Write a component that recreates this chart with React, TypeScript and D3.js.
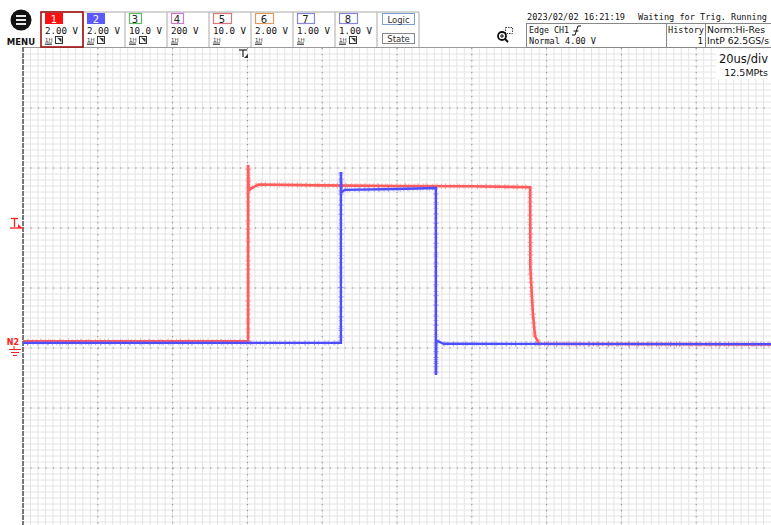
import React from "react";
import * as d3 from "d3";

// ---- data ----
const ch1Times = [0, 60.2, 60.2, 60.35, 61, 63, 80, 100, 120, 135.6, 135.65, 135.9, 136.3, 136.9, 138, 200];
const ch1Volts = [0.02, 0.02, 5.9, 5.05, 5.12, 5.25, 5.22, 5.2, 5.19, 5.16, 2.5, 1.9, 1.0, 0.2, -0.06, -0.08];
const ch2Times = [0, 85.0, 85.0, 85.1, 86, 100, 110.4, 110.4, 110.5, 112.5, 200];
const ch2Volts = [-0.03, -0.03, 5.67, 4.98, 5.07, 5.1, 5.13, -1.1, 0.05, -0.06, -0.07];

const channelNums = ["1", "2", "3", "4", "5", "6", "7", "8"];
const channelScales = ["2.00 V", "2.00 V", "10.0 V", "200 V", "10.0 V", "2.00 V", "1.00 V", "1.00 V"];
const channelColors = ["#ff1010", "#5a5aff", "#5cbb5c", "#c77ccf", "#dd7676", "#e09a5a", "#8a86d8", "#8a86d8"];
const channelFilled = [true, true, false, false, false, false, false, false];
const channelHasProbeIcon = [true, true, true, false, false, false, false, true];

const timeDomain = [0, 200]; // us, 20 us/div
const voltDomain = [-6.2, 9.8]; // CH1/CH2 2 V/div

const W = 771;
const H = 525;
const X0 = 23;
const X1 = 771;
const Y0 = 48;
const Y1 = 528;

const x = d3.scaleLinear().domain(timeDomain).range([X0, X1]);
const y = d3.scaleLinear().domain(voltDomain).range([Y1, Y0]);

const line = d3
  .line<[number, number]>()
  .x((d) => x(d[0]))
  .y((d) => y(d[1]));

const ch1 = ch1Times.map((t, i) => [t, ch1Volts[i]] as [number, number]);
const ch2 = ch2Times.map((t, i) => [t, ch2Volts[i]] as [number, number]);

const mono = "'DejaVu Sans Mono', monospace";
const sans = "'DejaVu Sans', sans-serif";

export default function App() {
  const divW = (X1 - X0) / 10;
  const minorX: number[] = [];
  for (let i = 1; i < 100; i++) minorX.push(X0 + (i * divW) / 10);
  const minorY: number[] = [];
  for (let j = 1; j < 80; j++) minorY.push(Y0 + j * 6);
  const majorX: number[] = [];
  for (let k = 1; k < 10; k++) majorX.push(X0 + k * divW);
  const majorY: number[] = [];
  for (let k = 1; k < 8; k++) majorY.push(Y0 + k * 60);

  const boxLefts = [41, 83, 125, 167, 209, 251, 293, 335];
  const headerW = [18, 18, 12, 12, 18, 18, 17, 18];

  const d1 = line(ch1) || "";
  const d2 = line(ch2) || "";

  return (
    <svg
      width={W}
      height={H}
      style={{ position: "absolute", left: 0, top: 0, background: "#fff" }}
    >
      <rect x={0} y={0} width={W} height={H} fill="#fff" />
      {/* grid minor */}
      {minorX.map((v, i) => (
        <line key={"mx" + i} x1={v} x2={v} y1={Y0} y2={H} stroke="#e4e4e4" strokeWidth={1} />
      ))}
      {minorY.map((v, i) => (
        <line key={"my" + i} x1={X0} x2={W} y1={v} y2={v} stroke="#e4e4e4" strokeWidth={1} />
      ))}
      {majorX.map((v, i) => (
        <line key={"Mx" + i} x1={v} x2={v} y1={Y0} y2={H} stroke="#8a8a8a" strokeWidth={1} strokeDasharray="1.2 4.8" />
      ))}
      {majorY.map((v, i) => (
        <line key={"My" + i} x1={X0} x2={W} y1={v} y2={v} stroke="#8a8a8a" strokeWidth={1} strokeDasharray="1.2 6.28" />
      ))}
      {/* borders */}
      <line x1={X0} x2={W} y1={47.5} y2={47.5} stroke="#9a9a9a" strokeWidth={1} />
      <line x1={X0} x2={X0} y1={47} y2={H} stroke="#777" strokeWidth={2} strokeDasharray="5 1" />

      {/* traces */}
      <path d={d1} fill="none" stroke="#ff5a5a" strokeWidth={2.6} />
      <path d={d1} fill="none" stroke="#ff6a6a" strokeWidth={5} strokeDasharray="1 2.7 1 4.3" opacity={0.5} />
      <path d={d1} fill="none" stroke="#ff7070" strokeWidth={6.5} strokeDasharray="0.8 7.3 0.8 11.1" strokeDashoffset={3} opacity={0.45} />
      <path d={d2} fill="none" stroke="#4d4dff" strokeWidth={2.4} />
      <path d={d2} fill="none" stroke="#5a5aff" strokeWidth={4.6} strokeDasharray="1 3.1 1 4.6" opacity={0.45} />
      <path d={d2} fill="none" stroke="#6060ff" strokeWidth={6} strokeDasharray="0.8 8.2 0.8 10.7" strokeDashoffset={5} opacity={0.4} />

      {/* trigger position marker */}
      <g stroke="#333" strokeWidth={1.3} fill="none">
        <line x1={239} x2={247} y1={50} y2={50} />
        <line x1={243} x2={243} y1={50} y2={57} />
      </g>
      <path d="M244,58 L248,58 L248,54 Z" fill="#333" />

      {/* trigger level marker */}
      <g stroke="#ff2020" strokeWidth={1.3} fill="none">
        <line x1={11} x2={18} y1={218.5} y2={218.5} />
        <line x1={14.5} x2={14.5} y1={218} y2={227} />
        <line x1={10} x2={23} y1={228} y2={228} />
      </g>
      <path d="M18,224 L22,228 L18,228 Z" fill="#ff2020" />

      {/* ground marker */}
      <text x={13} y={345} textAnchor="middle" fontFamily={sans} fontSize={8} fontWeight="bold" fill="#ff2020">
        N2
      </text>
      <g stroke="#ff2020" strokeWidth={1}>
        <line x1={14} x2={14} y1={346} y2={349} />
        <line x1={9} x2={21} y1={349.5} y2={349.5} />
        <line x1={11} x2={19} y1={352.5} y2={352.5} />
        <line x1={13} x2={17} y1={355.5} y2={355.5} />
      </g>

      {/* top-right scale text */}
      <rect x={716} y={49} width={55} height={30} fill="#fff" />
      <text x={768} y={63} textAnchor="end" fontFamily={sans} fontSize={11.5} fill="#111">
        20us/div
      </text>
      <text x={768} y={76} textAnchor="end" fontFamily={sans} fontSize={9.5} fill="#111">
        12.5MPts
      </text>

      {/* MENU */}
      <circle cx={21} cy={20} r={10.5} fill="#111" />
      <g stroke="#fff" strokeWidth={1.8}>
        <line x1={16} x2={26} y1={16} y2={16} />
        <line x1={16} x2={26} y1={20} y2={20} />
        <line x1={16} x2={26} y1={24} y2={24} />
      </g>
      <text x={21} y={45} textAnchor="middle" fontFamily={sans} fontSize={8.5} fontWeight="bold" fill="#111">
        MENU
      </text>

      {/* channel boxes */}
      <line x1={41} x2={419} y1={12} y2={12} stroke="#aaa" />
      {boxLefts.map((bx, i) => (
        <g key={"ch" + i}>
          <line x1={bx + 42} x2={bx + 42} y1={12} y2={47} stroke="#aaa" />
          {channelFilled[i] ? (
            <rect x={bx + 4} y={13} width={headerW[i]} height={11} fill={channelColors[i]} />
          ) : (
            <rect x={bx + 4.5} y={13.5} width={headerW[i]} height={10} fill="#fff" stroke={channelColors[i]} strokeWidth={1.2} />
          )}
          <text
            x={bx + 4 + headerW[i] / 2}
            y={22.5}
            textAnchor="middle"
            fontFamily={sans}
            fontSize={10}
            fill={channelFilled[i] ? "#fff" : "#222"}
          >
            {channelNums[i]}
          </text>
          <text x={bx + 4} y={34} fontFamily={mono} fontSize={9} fill="#111" textLength={channelScales[i].length * 5.5} lengthAdjust="spacingAndGlyphs">
            {channelScales[i]}
          </text>
          <text x={bx + 4} y={42} fontFamily={sans} fontSize={5.5} fill="#333">
            1H
          </text>
          <line x1={bx + 4} x2={bx + 11} y1={43} y2={43} stroke="#333" strokeWidth={0.8} />
          <line x1={bx + 4} x2={bx + 11} y1={44.5} y2={44.5} stroke="#333" strokeWidth={0.8} />
          {channelHasProbeIcon[i] && (
            <g>
              <rect x={bx + 14.5} y={36.5} width={7} height={7} fill="none" stroke="#333" strokeWidth={1} />
              <path d={`M${bx + 16},${37.5} L${bx + 20.5},${42.5} L${bx + 20.5},${38.5} Z`} fill="#333" />
            </g>
          )}
        </g>
      ))}
      <rect x={41} y={12} width={42} height={35} fill="none" stroke="#a01010" strokeWidth={1.6} />
      {/* Logic/State */}
      <line x1={419} x2={419} y1={12} y2={47} stroke="#aaa" />
      <rect x={382.5} y={13.5} width={32} height={11} fill="#fff" stroke="#7f9fd0" />
      <text x={398.5} y={22.5} textAnchor="middle" fontFamily={sans} fontSize={8.5} fill="#333">
        Logic
      </text>
      <rect x={382.5} y={33.5} width={32} height={10} fill="#fff" stroke="#888" />
      <text x={398.5} y={42} textAnchor="middle" fontFamily={sans} fontSize={8.5} fill="#333">
        State
      </text>

      {/* zoom icon */}
      <circle cx={502} cy={36} r={4} fill="none" stroke="#111" strokeWidth={1.8} />
      <line x1={505} x2={508} y1={39} y2={42} stroke="#111" strokeWidth={2} />
      <line x1={500} x2={504} y1={36} y2={36} stroke="#111" strokeWidth={1} />
      <line x1={502} x2={502} y1={34} y2={38} stroke="#111" strokeWidth={1} />
      <rect x={505.5} y={27.5} width={7} height={6} fill="none" stroke="#111" strokeWidth={0.8} strokeDasharray="1.5 1" />

      {/* status */}
      <text x={527} y={20} fontFamily={mono} fontSize={9} fill="#111" textLength={98} lengthAdjust="spacingAndGlyphs">
        2023/02/02 16:21:19
      </text>
      <text x={638} y={20} fontFamily={mono} fontSize={9} fill="#111" textLength={88} lengthAdjust="spacingAndGlyphs">
        Waiting for Trig.
      </text>
      <text x={731} y={20} fontFamily={mono} fontSize={9} fill="#111" textLength={36} lengthAdjust="spacingAndGlyphs">
        Running
      </text>
      <rect x={526.5} y={23.5} width={250} height={24} fill="none" stroke="#888" />
      <line x1={666.5} x2={666.5} y1={23} y2={47} stroke="#888" />
      <line x1={705.5} x2={705.5} y1={23} y2={47} stroke="#888" />
      <text x={529} y={33} fontFamily={mono} fontSize={9} fill="#111" textLength={40} lengthAdjust="spacingAndGlyphs">
        Edge CH1
      </text>
      <path d="M572,35 L575,35 L578,26 L581,26 M573.5,31 L578.5,31" fill="none" stroke="#111" strokeWidth={1} />
      <text x={529} y={44} fontFamily={mono} fontSize={9} fill="#111" textLength={67} lengthAdjust="spacingAndGlyphs">
        Normal 4.00 V
      </text>
      <text x={668} y={33} fontFamily={mono} fontSize={9} fill="#111" textLength={36} lengthAdjust="spacingAndGlyphs">
        History
      </text>
      <text x={703} y={44} textAnchor="end" fontFamily={mono} fontSize={9} fill="#111">
        1
      </text>
      <text x={707} y={33} fontFamily={sans} fontSize={9} fill="#111" textLength={58} lengthAdjust="spacingAndGlyphs">
        Norm:Hi-Res
      </text>
      <text x={707} y={44} fontFamily={sans} fontSize={9} fill="#111" textLength={62} lengthAdjust="spacingAndGlyphs">
        IntP 62.5GS/s
      </text>
    </svg>
  );
}
